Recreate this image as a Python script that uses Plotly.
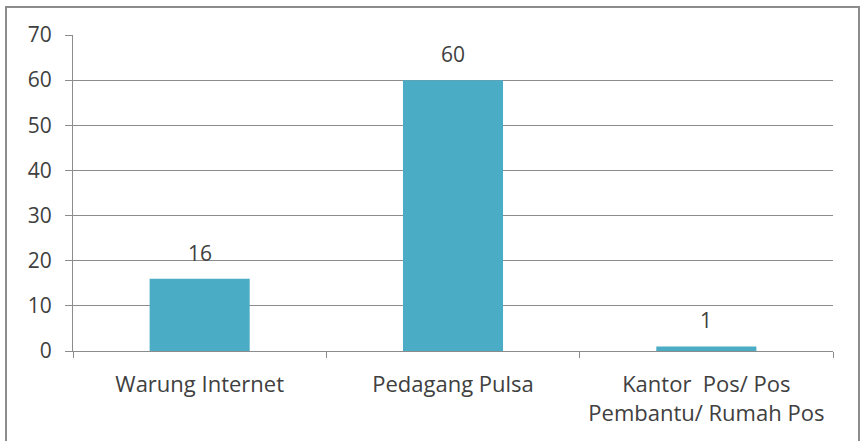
import plotly.graph_objects as go

categories = ["Warung Internet", "Pedagang Pulsa", "Kantor  Pos/ Pos<br>Pembantu/ Rumah Pos"]
values = [16, 60, 1]
y_ticks = [0, 10, 20, 30, 40, 50, 60, 70]

font_family = "'Open Sans', Lato, sans-serif"
text_color = "#404040"
axis_gray = "#8c8c8c"

fig = go.Figure(go.Bar(
    x=categories, y=values,
    marker=dict(color="#4BACC6", line=dict(width=0)),
    hoverinfo="skip",
))

for c, v in zip(categories, values):
    fig.add_annotation(x=c, y=v, text=str(v), showarrow=False,
                       yanchor="bottom", yshift=10,
                       font=dict(size=21, color=text_color, family=font_family))

fig.update_layout(
    width=862, height=441,
    margin=dict(l=73, r=29, t=35, b=90),
    paper_bgcolor="white", plot_bgcolor="white",
    bargap=0.605,
    showlegend=False,
    font=dict(family=font_family, size=21, color=text_color),
    xaxis=dict(
        tickson="boundaries", ticks="outside", ticklen=6, tickcolor=axis_gray,
        showline=True, linecolor=axis_gray, linewidth=1,
        showgrid=False, tickfont=dict(size=22, color=text_color),
        ticklabelstandoff=14,
    ),
    yaxis=dict(
        range=[0, 70], tickvals=y_ticks, ticks="outside", ticklen=7,
        tickcolor=axis_gray, showline=True, linecolor=axis_gray,
        showgrid=True, gridcolor=axis_gray, gridwidth=1,
        zeroline=False, tickfont=dict(size=21, color=text_color),
        ticklabelstandoff=9,
    ),
    shapes=[dict(type="rect", xref="paper", yref="paper",
                 x0=(6 - 73) / 760, x1=(859 - 73) / 760,
                 y0=(351 - 445) / 316, y1=(351 - 7) / 316,
                 line=dict(color=axis_gray, width=2))],
)

fig.write_html("out.html", config={"displayModeBar": False},
               post_script="document.body.style.margin='0';")
